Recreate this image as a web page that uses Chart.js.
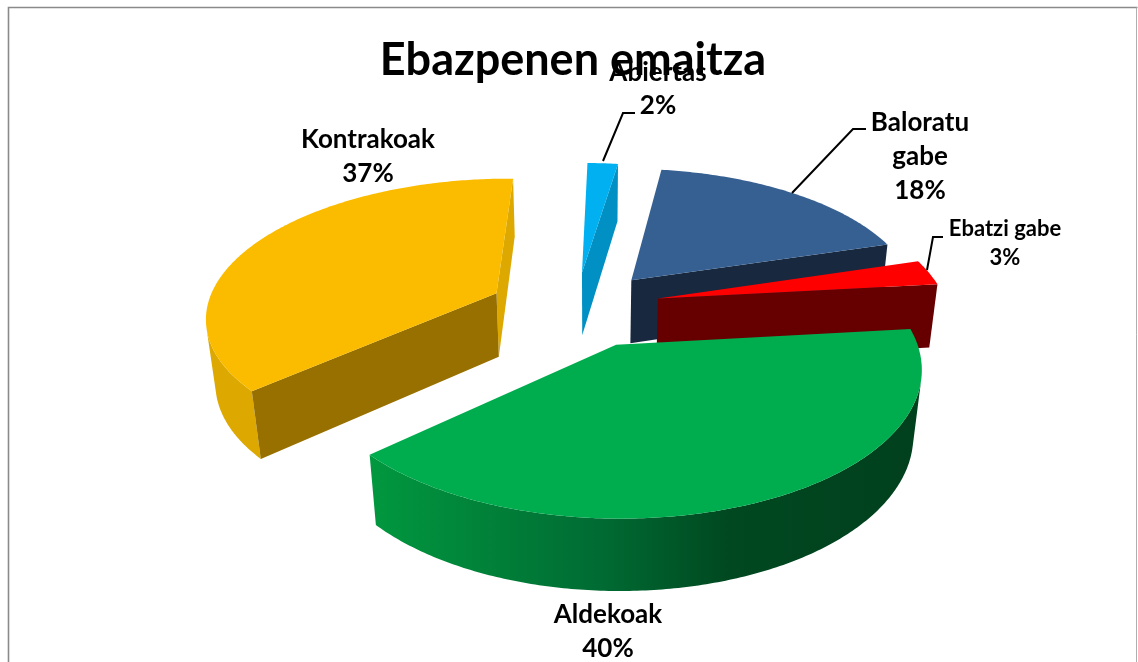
<!DOCTYPE html>
<html><head><meta charset="utf-8">
<style>html,body{margin:0;padding:0;background:#fff}canvas{display:block}</style>
<script src="https://cdn.jsdelivr.net/npm/chart.js@4"></script>
</head><body><canvas id="c" width="1138" height="662"></canvas>
<script>
const categories = ["Abiertas","Baloratu gabe","Ebatzi gabe","Aldekoak","Kontrakoak"];
const values = [2,18,3,40,37];
const topColors = ["#00B0F0","#376092","#FF0000","#00AD4E","#FBBC00"];
const startFaceColors = ["#0090C4","#17283F","#660000","#009A45","#977000"];
const endFaceColors = ["#0090C4","#17283F","#660000","#01401D","#DDA800"];
const wallStops = [
  [[0,"#0090C4"],[1,"#0090C4"]],
  [[0,"#17283F"],[1,"#17283F"]],
  [[0,"#660000"],[1,"#660000"]],
  [[0,"#01983F"],[0.42,"#006B33"],[0.65,"#004820"],[1,"#01401D"]],
  [[0,"#DDA800"],[1,"#DDA800"]]
];
const explodeX = [-0.036,0.14,0.23,0.08,-0.335];
const explodeY = [-0.30,-0.24,-0.10,0.23,-0.14];
const paintOrder = [0,1,4,2,3];
const view = {cx:592, cy:312, k:291, kc:137, q:0.15, r:0.025, drop:66};
const rotationDeg = 1;

function project(X,Y,t){
  const den = 1 - view.q*Y + view.r*t;
  return [view.cx + view.k*X/den, view.cy + (view.kc*Y + view.drop*t)/den];
}

// Canvas-like object handed to Chart.js' own ArcElement.draw: it maps every path point through the 3D view.
function makeProjector(real, arc, sx, sy, onPoint){
  const R = arc.outerRadius; let tx=0, ty=0; const stack=[]; let started=false;
  const put=(px,py)=>{
    const X=(px+tx-arc.x)/R+sx, Y=(py+ty-arc.y)/R+sy;
    if(onPoint) onPoint(X,Y,(px+tx-arc.x)/R,(py+ty-arc.y)/R);
    if(real){const p=project(X,Y,0); if(started) real.lineTo(p[0],p[1]); else {real.moveTo(p[0],p[1]); started=true;}}
    else started=true;
  };
  return {
    save(){stack.push([tx,ty])}, restore(){const s=stack.pop(); if(s){tx=s[0];ty=s[1]}},
    translate(a,b){tx+=a;ty+=b},
    beginPath(){started=false; if(real) real.beginPath()},
    moveTo(a,b){put(a,b)}, lineTo(a,b){put(a,b)},
    arc(x,y,r,a0,a1,ccw){
      let d=a1-a0; const n=Math.max(1,Math.ceil(Math.abs(d)/0.012));
      if(r===0){put(x,y);return}
      for(let i=0;i<=n;i++){const a=a0+d*i/n; put(x+r*Math.cos(a),y+r*Math.sin(a));}
    },
    closePath(){if(real) real.closePath()},
    fill(){if(real){real.fillStyle=this.fillStyle; real.fill();}},
    stroke(){}, clip(){}, setLineDash(){},
  };
}

function fillPoly(ctx,poly,col){
  ctx.beginPath();
  poly.forEach((p,j)=>j?ctx.lineTo(p[0],p[1]):ctx.moveTo(p[0],p[1]));
  ctx.closePath(); ctx.fillStyle=col; ctx.fill();
}
function frontFacing(poly){
  let s=0;
  poly.forEach((p,j)=>{const q=poly[(j+1)%poly.length]; s+=p[0]*q[1]-q[0]*p[1];});
  return s<0;
}
function quadOf(p,q){
  return [project(p.X,p.Y,0),project(q.X,q.Y,0),project(q.X,q.Y,1),project(p.X,p.Y,1)];
}

const pie3d = {
  id:"pie3d",
  beforeDatasetDraw(chart){
    const ctx=chart.ctx, arcs=chart.getDatasetMeta(0).data;
    paintOrder.forEach(i=>{
      const arc=arcs[i], sx=explodeX[i], sy=explodeY[i];
      const pts=[];
      arc.draw(makeProjector(null,arc,sx,sy,(X,Y,u,v)=>{
        const last=pts[pts.length-1];
        if(!last||Math.abs(last.X-X)+Math.abs(last.Y-Y)>1e-6) pts.push({X,Y,c:Math.hypot(u,v)<1e-3});
      }));
      const centerAt=pts.findIndex(p=>p.c);
      const rim=pts.slice(0,centerAt), apex=pts[centerAt];
      const xs=rim.map(p=>project(p.X,p.Y,0)[0]).concat(project(apex.X,apex.Y,0)[0]);
      const grad=ctx.createLinearGradient(Math.min(...xs),0,Math.max(...xs),0);
      wallStops[i].forEach(s=>grad.addColorStop(s[0],s[1]));
      // outer wall: contiguous runs of rim segments that face the viewer, each one polygon
      let run=[];
      const flush=()=>{
        if(run.length>1) fillPoly(ctx,run.map(p=>project(p.X,p.Y,0)).concat(run.slice().reverse().map(p=>project(p.X,p.Y,1))),grad);
        run=[];
      };
      for(let j=0;j<rim.length-1;j++){
        if(frontFacing(quadOf(rim[j],rim[j+1]))){ if(!run.length) run.push(rim[j]); run.push(rim[j+1]); }
        else flush();
      }
      flush();
      // the two cut faces, only when they face the viewer
      const a=rim[rim.length-1], b=rim[0];
      [[a,apex,endFaceColors[i]],[apex,b,startFaceColors[i]]].forEach(f=>{
        const quad=quadOf(f[0],f[1]);
        if(frontFacing(quad)) fillPoly(ctx,quad,f[2]);
      });
      ctx.save();
      arc.draw(makeProjector(ctx,arc,sx,sy));
      ctx.restore();
    });
    return false;
  }
};

const labelLayout = [
  {x:658,ys:[73,106],size:26,leader:[[603,161],[623,113],[635,113]]},
  {x:920,ys:[123,157,191],size:26,lines:["Baloratu","gabe"],leader:[[792,193],[853,129],[866,129]]},
  {x:1005,ys:[229,258],size:22,leader:[[927,270],[933,237],[943,237]]},
  {x:608,ys:[615,649],size:26},
  {x:368,ys:[139.5,173.5],size:26}
];
const frameAndLabels = {
  id:"frameAndLabels",
  beforeDraw(chart){
    const c=chart.ctx; c.save(); c.fillStyle="#fff"; c.fillRect(0,0,1138,662);
    c.strokeStyle="#8a8a8a"; c.lineWidth=1.6;
    c.beginPath(); c.moveTo(8.5,662); c.lineTo(8.5,7.5); c.lineTo(1137.5,7.5); c.stroke();
    c.strokeStyle="#b0b0b0"; c.lineWidth=1; c.beginPath(); c.moveTo(1136.5,7.5); c.lineTo(1136.5,662); c.stroke();
    c.restore();
  },
  afterDraw(chart){
    const c=chart.ctx; c.save();
    c.fillStyle="#000"; c.textAlign="center"; c.textBaseline="middle";
    labelLayout.forEach((l,i)=>{
      if(l.leader){
        c.strokeStyle="#000"; c.lineWidth=2; c.beginPath();
        l.leader.forEach((p,j)=>j?c.lineTo(p[0],p[1]):c.moveTo(p[0],p[1])); c.stroke();
      }
      c.font="bold "+l.size+"px Lato";
      const lines=(l.lines||[categories[i]]).concat(values[i]+"%");
      lines.forEach((t,j)=>c.fillText(t,l.x,l.ys[j]));
    });
    c.restore();
  }
};

new Chart(document.getElementById("c"),{
  type:"pie",
  data:{labels:categories,datasets:[{data:values,backgroundColor:topColors,borderWidth:0}]},
  options:{
    responsive:false,animation:false,rotation:rotationDeg,
    layout:{padding:{left:8}},
    plugins:{
      legend:{display:false},tooltip:{enabled:false},
      title:{display:true,text:"Ebazpenen emaitza",color:"#000",font:{family:"Lato",size:45,weight:"bold"},padding:{top:33,bottom:10}}
    }
  },
  plugins:[frameAndLabels,pie3d]
});
</script></body></html>
